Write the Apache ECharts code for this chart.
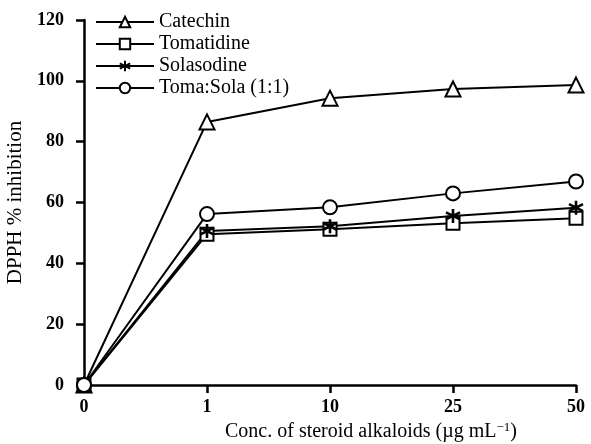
<!DOCTYPE html>
<html>
<head>
<meta charset="utf-8">
<script src="https://cdn.jsdelivr.net/npm/echarts@6/dist/echarts.min.js"></script>
<style>html,body{margin:0;padding:0;background:#fff}#c{width:591px;height:444px}</style>
</head>
<body>
<div id="c"></div>
<script>
var categories = ['0', '1', '10', '25', '50'];
var catechin = [0, 86.5, 94.3, 97.3, 98.6];
var tomatidine = [0, 49.6, 51.2, 53.2, 54.8];
var solasodine = [0, 50.6, 52.2, 55.6, 58.3];
var tomaSola = [0, 56.2, 58.4, 63.0, 66.9];
var seriesNames = ['Catechin', 'Tomatidine', 'Solasodine', 'Toma:Sola (1:1)'];
var yTicks = [0, 20, 40, 60, 80, 100, 120];

var FONT = '"Liberation Serif", "DejaVu Serif", serif';
var asterisk = 'path://M0,-10L0,10M-8.66,-5L8.66,5M-8.66,5L8.66,-5';

function mkSeries(name, data, symbol, size, bw) {
  return {
    name: name, type: 'line', data: data,
    symbol: symbol, symbolSize: size,
    showSymbol: true, showAllSymbol: true, clip: false,
    lineStyle: {color: '#000', width: 2},
    itemStyle: {color: '#fff', borderColor: '#000', borderWidth: bw || 2},
    emphasis: {disabled: true}
  };
}

var chart = echarts.init(document.getElementById('c'), null, {renderer: 'canvas'});
chart.setOption({
  animation: false,
  textStyle: {fontFamily: FONT, color: '#000'},
  grid: {left: 84, right: 15, top: 20, bottom: 59, containLabel: false, outerBoundsMode: 'none'},
  legend: {
    orient: 'vertical', left: 90, top: 7,
    itemWidth: 58, itemHeight: 13, itemGap: 2,
    data: seriesNames,
    textStyle: {fontFamily: FONT, fontSize: 20, color: '#000', lineHeight: 20}
  },
  xAxis: {
    type: 'category', data: categories, boundaryGap: false,
    axisLine: {lineStyle: {color: '#000', width: 2.5}},
    axisTick: {alignWithLabel: true, length: 8, lineStyle: {color: '#000', width: 2.5}},
    axisLabel: {fontFamily: FONT, fontSize: 18, fontWeight: 'bold', color: '#000', margin: 13},
    splitLine: {show: false},
    name: '{a|Conc. of steroid alkaloids (\u00b5g mL}{s|\u22121}{a|)}',
    nameLocation: 'middle', nameGap: 35,
    nameTextStyle: {
      padding: [0, 0, 0, 82],
      rich: {
        a: {fontFamily: FONT, fontSize: 20, color: '#000'},
        s: {fontFamily: FONT, fontSize: 13, color: '#000', verticalAlign: 'top', padding: [0, 0, 9, 0]}
      }
    }
  },
  yAxis: {
    type: 'value', min: 0, max: 120, interval: 20,
    axisLine: {show: true, lineStyle: {color: '#000', width: 2.5}},
    axisTick: {show: true, length: 8, lineStyle: {color: '#000', width: 2.5}},
    axisLabel: {fontFamily: FONT, fontSize: 18, fontWeight: 'bold', color: '#000', margin: 20,
      formatter: function (v) { return yTicks.indexOf(v) >= 0 ? String(v) : ''; }},
    splitLine: {show: false},
    name: 'DPPH % inhibition', nameLocation: 'middle', nameGap: 42,
    nameTextStyle: {fontFamily: FONT, fontSize: 21, color: '#000'}
  },
  series: [
    mkSeries(seriesNames[0], catechin, 'triangle', 15),
    mkSeries(seriesNames[1], tomatidine, 'rect', 13),
    mkSeries(seriesNames[2], solasodine, asterisk, 14, 2.6),
    mkSeries(seriesNames[3], tomaSola, 'circle', 14)
  ]
});
</script>
</body>
</html>
